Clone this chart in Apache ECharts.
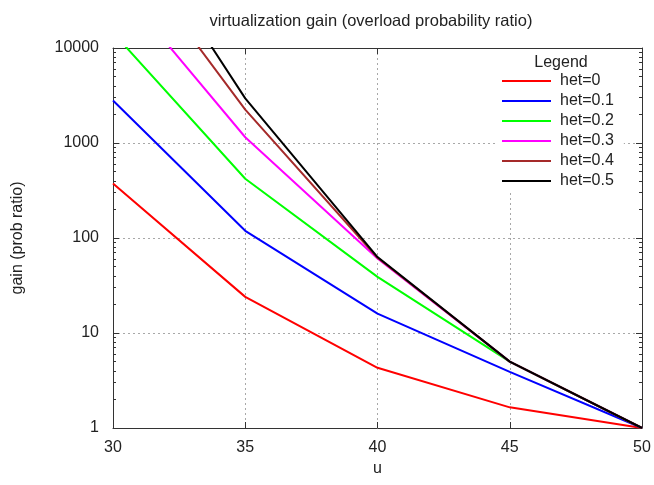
<!DOCTYPE html>
<html>
<head>
<meta charset="utf-8">
<script src="https://cdn.jsdelivr.net/npm/echarts@6/dist/echarts.min.js"></script>
<style>
	html, body {margin: 0; padding: 0; background: #fff;}
	#chart {width: 654px; height: 485px;}
</style>
</head>
<body>
<div id="chart"></div>
<script>
const u = [30, 35, 40, 45, 50];
const names = ['het=0', 'het=0.1', 'het=0.2', 'het=0.3', 'het=0.4', 'het=0.5'];
const het0 = [375, 24, 4.3, 1.65, 1];
const het1 = [2800, 119, 16, 3.9, 1];
const het2 = [14500, 420, 39, 5, 1];
const het3 = [53000, 1150, 61, 5, 1];
const het4 = [165000, 2250, 62, 5, 1];
const het5 = [400000, 2950, 63, 5, 1];
const minorTicks = [2, 3, 4, 5, 6, 7, 8, 9, 20, 30, 40, 50, 60, 70, 80, 90,
	200, 300, 400, 500, 600, 700, 800, 900, 2000, 3000, 4000, 5000, 6000, 7000, 8000, 9000];

const colors = ['#ff0000', '#0000ff', '#00ff00', '#ff00ff', '#a52a2a', '#000000'];
const font = 'Liberation Sans, Arial, sans-serif';
const border = '#333';
const text = '#222';
const split = {show: true, lineStyle: {color: '#a8a8a8', type: [2, 3], width: 1}};

const series = [het0, het1, het2, het3, het4, het5].map((values, index) => ({
	type: 'line',
	name: names[index],
	symbol: 'none',
	clip: true,
	lineStyle: {width: 2, color: colors[index]},
	itemStyle: {color: colors[index]},
	data: values.map((v, i) => [u[i], v])
}));

const logAxis = {type: 'log', logBase: 10, min: 1, max: 10000};

// mirrored log axes only carry ticks, the first one has labels and grid
const tickAxis = (position, length, customValues) => ({
	...logAxis,
	position,
	axisLine: {show: !customValues, lineStyle: {color: border}},
	axisTick: {show: true, inside: true, length, customValues, lineStyle: {color: border}},
	axisLabel: {show: false},
	splitLine: {show: false}
});

const chart = echarts.init(document.getElementById('chart'));
chart.setOption({
	animation: false,
	textStyle: {fontFamily: font},
	title: [
		{text: 'virtualization gain (overload probability ratio)', left: 366, top: 8, textAlign: 'center',
			textStyle: {fontFamily: font, fontSize: 16.5, fontWeight: 'normal', color: text}},
		{text: 'Legend', left: 561, top: 55, textAlign: 'center', z: 10, padding: 0,
			textStyle: {fontFamily: font, fontSize: 16, fontWeight: 'normal', color: text}}
	],
	grid: {left: 113, right: 12, top: 48, bottom: 57, containLabel: false},
	legend: {
		orient: 'vertical',
		left: 495,
		top: 49,
		padding: [24, 10, 4, 7],
		backgroundColor: '#fff',
		icon: 'rect',
		itemWidth: 49,
		itemHeight: 2,
		itemGap: 4,
		textStyle: {fontFamily: font, fontSize: 16, color: text, lineHeight: 16, padding: [0, 0, 0, 4]},
		data: names
	},
	xAxis: [
		{type: 'value', min: 30, max: 50, interval: 5, position: 'bottom',
			name: 'u', nameLocation: 'middle', nameGap: 28,
			nameTextStyle: {fontFamily: font, fontSize: 16, color: text},
			axisLine: {lineStyle: {color: border}},
			axisTick: {inside: true, length: 6, lineStyle: {color: border}},
			axisLabel: {fontFamily: font, fontSize: 16, color: text, margin: 12},
			splitLine: split},
		{type: 'value', min: 30, max: 50, interval: 5, position: 'top',
			axisLine: {show: true, lineStyle: {color: border}},
			axisTick: {inside: true, length: 6, lineStyle: {color: border}},
			axisLabel: {show: false},
			splitLine: {show: false}}
	],
	yAxis: [
		{...logAxis, position: 'left',
			name: 'gain (prob ratio)', nameLocation: 'middle', nameGap: 87, nameRotate: 90,
			nameTextStyle: {fontFamily: font, fontSize: 16, color: text},
			axisLine: {show: true, lineStyle: {color: border}},
			axisTick: {show: true, inside: true, length: 6, lineStyle: {color: border}},
			axisLabel: {fontFamily: font, fontSize: 16, color: text, margin: 14, formatter: v => String(v)},
			splitLine: split},
		tickAxis('left', 3, minorTicks),
		tickAxis('right', 6),
		tickAxis('right', 3, minorTicks)
	],
	series
});
</script>
</body>
</html>
